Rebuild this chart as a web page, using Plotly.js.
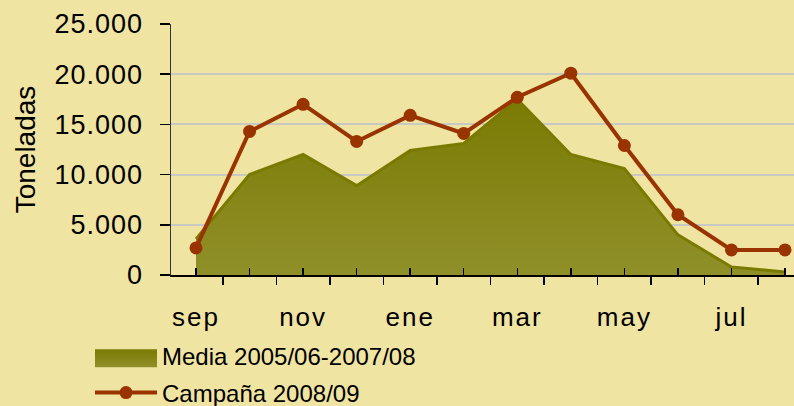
<!DOCTYPE html>
<html>
<head>
<meta charset="utf-8">
<script src="https://cdn.plot.ly/plotly-3.0.1.min.js"></script>
<style>
html,body{margin:0;padding:0;background:#F0E4A2;overflow:hidden;}
#chart{width:794px;height:420px;}
.xtick text{letter-spacing:2px;}
.ytick text{letter-spacing:1px;}
.legend .legendfill path{transform:scaleY(3);stroke:#7A7A00;stroke-width:2px;vector-effect:non-scaling-stroke;}
.legend .traces:has(.legendfill path) .legendlines path{display:none;}
</style>
</head>
<body>
<div id="chart"></div>
<script>
// Data
const months = ['sep','oct','nov','dic','ene','feb','mar','abr','may','jun','jul','ago'];
const monthLabels = ['sep','','nov','','ene','','mar','','may','','jul',''];
const mediaValues = [3600, 10000, 12000, 8900, 12400, 13100, 17500, 12000, 10600, 4000, 800, 300];
const campanaValues = [2700, 14300, 17000, 13300, 15900, 14100, 17700, 20100, 12900, 6000, 2500, 2500];
const yTickValues = [0, 5000, 10000, 15000, 20000, 25000];
const seriesNames = ['Media 2005/06-2007/08', 'Campaña 2008/09'];

const xIdx = months.map((m, i) => i);
const font = 'Arial, "Liberation Sans", sans-serif';

const traces = [
  {
    x: xIdx, y: mediaValues, name: seriesNames[0], type: 'scatter', mode: 'lines',
    fill: 'tozeroy',
    fillgradient: {type: 'vertical', start: 0, stop: 17500,
      colorscale: [[0, '#90902A'], [1, '#7A7A04']]},
    line: {color: '#7A7A00', width: 3},
    legendgroup: 'a', text: months, hoverinfo: 'text+y'
  },
  {
    x: xIdx, y: campanaValues, name: seriesNames[1], type: 'scatter', mode: 'lines+markers',
    line: {color: '#993300', width: 4},
    marker: {color: '#993300', size: 13},
    legendgroup: 'b', text: months, hoverinfo: 'text+y'
  }
];

const layout = {
  width: 794, height: 420,
  margin: {l: 171, r: 0, t: 24, b: 145},
  paper_bgcolor: '#F0E4A2', plot_bgcolor: '#F0E4A2',
  separators: ',.',
  font: {family: font, color: '#000000', size: 24},
  showlegend: true,
  legend: {
    x: -0.13, xanchor: 'left', y: -0.232, yanchor: 'top',
    orientation: 'v', bgcolor: 'rgba(0,0,0,0)',
    font: {family: font, size: 24, color: '#000'},
    itemwidth: 62, traceorder: 'grouped', tracegroupgap: 3
  },
  xaxis: {
    range: [-0.467, 11.168], type: 'linear',
    tickvals: xIdx, ticktext: monthLabels,
    ticks: 'inside', ticklen: 7, tickwidth: 1.5, tickcolor: '#000',
    minor: {tick0: 0.5, dtick: 1, ticks: 'outside', ticklen: 8, tickwidth: 1.5, tickcolor: '#000', showgrid: false},
    showline: true, linecolor: '#000', linewidth: 1.5,
    showgrid: false, zeroline: false,
    tickfont: {family: font, size: 26, color: '#000'},
    ticklabelstandoff: 18,
    automargin: false,
    fixedrange: true
  },
  yaxis: {
    range: [0, 25000], tickvals: yTickValues, tickformat: ',d',
    ticks: 'outside', ticklen: 10, tickwidth: 1.5, tickcolor: '#000',
    showline: true, linecolor: '#333', linewidth: 1.5,
    showgrid: true, gridcolor: '#C9C9C3', gridwidth: 2,
    zeroline: false,
    tickfont: {family: font, size: 27, color: '#000'},
    ticklabelstandoff: 11,
    automargin: false,
    title: {text: 'Toneladas', font: {family: font, size: 28, color: '#000'}, standoff: 10},
    fixedrange: true
  }
};

Plotly.newPlot('chart', traces, layout, {displayModeBar: false, staticPlot: true});
</script>
</body>
</html>
